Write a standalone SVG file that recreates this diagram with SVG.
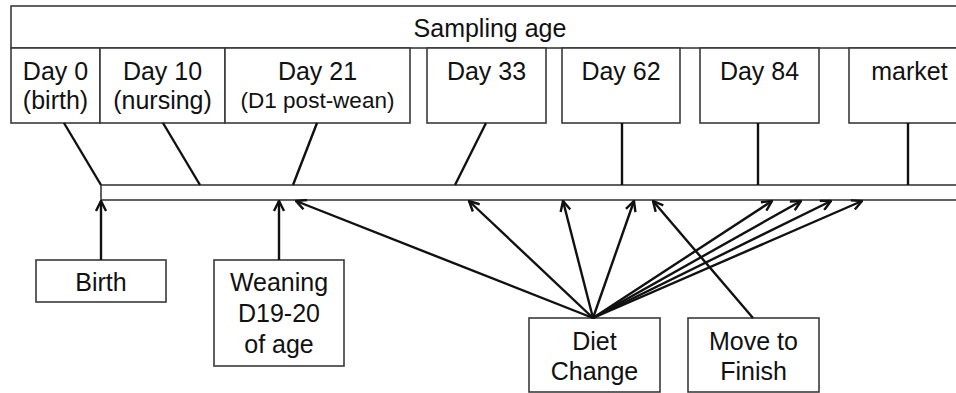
<svg xmlns="http://www.w3.org/2000/svg" width="956" height="393" viewBox="0 0 956 393">
<style>
.box{fill:#fff;stroke:#3a3a3a;stroke-width:1.6}
.t{font-family:"Liberation Sans",Arial,sans-serif;font-size:25px;fill:#111;text-anchor:middle}
.ts{font-size:22.5px}
.ln{stroke:#111;stroke-width:2.4;fill:none}
.ar{stroke:#111;stroke-width:2.4;fill:none;marker-end:url(#ah)}
</style>
<defs>
<marker id="ah" viewBox="0 0 12 12" refX="11" refY="6" markerWidth="12" markerHeight="12" markerUnits="userSpaceOnUse" orient="auto">
<path d="M1,1 L11,6 L1,11" fill="none" stroke="#111" stroke-width="2.4"/>
</marker>
</defs>
<g id="sampling-age">
<rect class="box" x="11" y="6" width="959" height="42"/>
<text class="t" x="490" y="37">Sampling age</text>
</g>
<g id="day0"><rect class="box" x="11" y="48" width="89" height="75"/><text class="t" x="55.5" y="80">Day 0</text><text class="t" x="55.5" y="109">(birth)</text></g>
<g id="day10"><rect class="box" x="100" y="48" width="125" height="75"/><text class="t" x="162.5" y="80">Day 10</text><text class="t" x="162.5" y="109">(nursing)</text></g>
<g id="day21"><rect class="box" x="225" y="48" width="185" height="75"/><text class="t" x="317.5" y="80">Day 21</text><text class="t ts" x="317.5" y="108">(D1 post-wean)</text></g>
<g id="day33"><rect class="box" x="427" y="48" width="119" height="75"/><text class="t" x="486.5" y="80">Day 33</text></g>
<g id="day62"><rect class="box" x="562" y="48" width="118" height="75"/><text class="t" x="621" y="80">Day 62</text></g>
<g id="day84"><rect class="box" x="700" y="48" width="119" height="75"/><text class="t" x="759.5" y="80">Day 84</text></g>
<g id="market"><rect class="box" x="849" y="48" width="121" height="75"/><text class="t" x="909.5" y="80">market</text></g>
<g id="timeline"><rect class="box" x="101" y="185" width="900" height="15"/></g>
<g id="birth"><rect class="box" x="36" y="260" width="130" height="42"/><text class="t" x="101" y="291">Birth</text></g>
<g id="weaning"><rect class="box" x="214" y="260" width="130" height="106"/><text class="t" x="279" y="291">Weaning</text><text class="t" x="279" y="322">D19-20</text><text class="t" x="279" y="353">of age</text></g>
<g id="diet-change"><rect class="box" x="529" y="318" width="131" height="74"/><text class="t" x="594.5" y="350">Diet</text><text class="t" x="594.5" y="380">Change</text></g>
<g id="move-to-finish"><rect class="box" x="688" y="318" width="131" height="74"/><text class="t" x="753.5" y="350">Move to</text><text class="t" x="753.5" y="380">Finish</text></g>
<g id="connectors">
<line class="ln" x1="64" y1="123" x2="101" y2="185"/>
<line class="ln" x1="163" y1="123" x2="200" y2="185"/>
<line class="ln" x1="317" y1="123" x2="293" y2="185"/>
<line class="ln" x1="486" y1="123" x2="455" y2="185"/>
<line class="ln" x1="622" y1="123" x2="622" y2="185"/>
<line class="ln" x1="758" y1="123" x2="758" y2="185"/>
<line class="ln" x1="908" y1="123" x2="908" y2="185"/>
<line class="ar" x1="101" y1="260" x2="101" y2="201"/>
<line class="ar" x1="279" y1="260" x2="279" y2="201"/>
<line class="ar" x1="593" y1="318" x2="296" y2="201"/>
<line class="ar" x1="593" y1="318" x2="469" y2="201"/>
<line class="ar" x1="593" y1="318" x2="563" y2="201"/>
<line class="ar" x1="593" y1="318" x2="634" y2="201"/>
<line class="ar" x1="593" y1="318" x2="772" y2="201"/>
<line class="ar" x1="593" y1="318" x2="801" y2="201"/>
<line class="ar" x1="593" y1="318" x2="831" y2="201"/>
<line class="ar" x1="593" y1="318" x2="862" y2="201"/>
<line class="ar" x1="753" y1="318" x2="653" y2="201"/>
</g>
</svg>
